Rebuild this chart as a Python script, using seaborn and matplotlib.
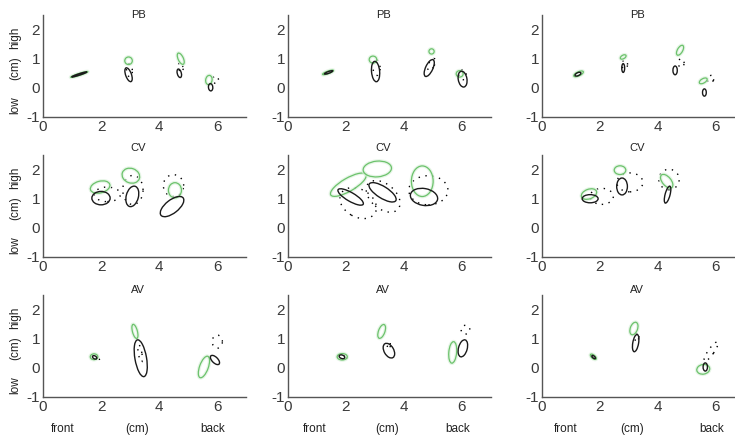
import matplotlib
matplotlib.use("Agg")
import matplotlib.pyplot as plt
from matplotlib.patches import Ellipse
import seaborn as sns

sns.set_style("white")
plt.rcParams['font.family'] = ['Liberation Sans', 'DejaVu Sans']
plt.rcParams['axes.unicode_minus'] = False

titles = ["PB", "PB", "PB", "CV", "CV", "CV", "AV", "AV", "AV"]
x_ticks = [0, 2, 4, 6]
y_ticks = [-1, 0, 1, 2]
y_words = ["low", "(cm)", "high"]
x_words = ["front", "(cm)", "back"]

# ellipses: (cx, cy, major, minor, angle_deg)
green = [
    [(1.25, 0.46, 0.62, 0.07, 18), (2.95, 0.93, 0.26, 0.26, 0), (4.75, 1.0, 0.42, 0.18, 115), (5.72, 0.27, 0.32, 0.22, 80)],
    [(1.38, 0.53, 0.40, 0.09, 20), (2.93, 0.97, 0.26, 0.24, 0), (4.95, 1.25, 0.18, 0.18, 0), (5.92, 0.48, 0.24, 0.22, 0)],
    [(1.26, 0.48, 0.36, 0.14, 25), (2.80, 1.06, 0.22, 0.12, 30), (4.76, 1.29, 0.38, 0.18, 60), (5.56, 0.24, 0.30, 0.15, 30)],
    [(1.97, 1.40, 0.69, 0.40, 15), (3.03, 1.79, 0.62, 0.50, -20), (4.55, 1.29, 0.45, 0.52, 0)],
    [(2.08, 1.48, 1.40, 0.45, 30), (3.08, 2.02, 0.98, 0.54, 5), (4.63, 1.60, 1.05, 0.75, 90)],
    [(1.62, 1.16, 0.55, 0.33, 20), (2.69, 1.98, 0.40, 0.30, 0), (4.30, 1.60, 0.56, 0.30, -50)],
    [(1.76, 0.38, 0.26, 0.20, 0), (3.17, 1.25, 0.50, 0.17, 105), (5.55, 0.03, 0.78, 0.30, 70)],
    [(1.87, 0.38, 0.35, 0.22, 0), (3.23, 1.25, 0.50, 0.22, 70), (5.68, 0.53, 0.74, 0.27, 85)],
    [(1.77, 0.38, 0.25, 0.12, -40), (3.17, 1.35, 0.45, 0.25, 70), (5.56, -0.05, 0.45, 0.33, 10)],
]
black = [
    [(1.25, 0.46, 0.55, 0.05, 18), (2.95, 0.45, 0.50, 0.20, 110), (4.70, 0.50, 0.30, 0.14, 105), (5.78, 0.02, 0.25, 0.15, 95)],
    [(1.40, 0.53, 0.30, 0.06, 20), (3.02, 0.56, 0.70, 0.28, 95), (4.87, 0.68, 0.63, 0.25, 65), (6.02, 0.30, 0.55, 0.30, 100)],
    [(1.24, 0.47, 0.22, 0.10, 25), (2.80, 0.68, 0.30, 0.10, 90), (4.59, 0.60, 0.30, 0.15, 90), (5.60, -0.16, 0.25, 0.13, 90)],
    [(2.00, 1.02, 0.63, 0.46, 0), (3.08, 1.08, 0.72, 0.42, 75), (4.45, 0.73, 0.97, 0.45, 38)],
    [(2.16, 1.06, 1.00, 0.30, -30), (3.26, 1.22, 1.08, 0.40, -32), (4.69, 1.06, 0.95, 0.58, -10)],
    [(1.66, 1.00, 0.55, 0.28, 0), (2.76, 1.42, 0.58, 0.37, 90), (4.33, 1.14, 0.60, 0.17, 75)],
    [(1.78, 0.36, 0.16, 0.10, -30), (3.37, 0.33, 1.28, 0.40, 100), (5.93, 0.27, 0.40, 0.20, -45)],
    [(1.86, 0.38, 0.20, 0.12, -20), (3.48, 0.59, 0.55, 0.33, -60), (6.03, 0.67, 0.60, 0.30, 75)],
    [(1.78, 0.37, 0.15, 0.07, -40), (3.23, 0.85, 0.60, 0.20, 80), (5.63, 0.03, 0.28, 0.15, 90)],
]
dotted = [
    [(2.98, 0.60, 0.45, 0.20, 95), (4.75, 0.70, 0.35, 0.15, 100), (5.95, 0.28, 0.25, 0.20, 90)],
    [(3.05, 0.70, 0.55, 0.25, 95), (4.95, 0.80, 0.45, 0.20, 65), (6.02, 0.45, 0.35, 0.25, 90)],
    [(2.85, 0.80, 0.30, 0.20, 90), (4.80, 0.85, 0.30, 0.20, 90), (5.82, 0.30, 0.28, 0.20, 60)],
    [(2.22, 1.15, 0.90, 0.50, 0), (3.10, 1.30, 1.00, 0.70, 90), (4.50, 1.45, 0.75, 0.70, 90)],
    [(2.42, 0.85, 1.35, 0.95, -30), (3.28, 1.08, 1.35, 0.85, -40), (4.84, 1.29, 1.35, 1.00, 0)],
    [(2.06, 1.08, 0.80, 0.55, 0), (3.03, 1.56, 0.90, 0.65, 0), (4.38, 1.66, 0.70, 0.70, 0)],
    [(1.92, 0.33, 0.14, 0.08, 0), (3.35, 0.50, 0.60, 0.12, 100), (6.01, 0.90, 0.45, 0.35, 90)],
    [(2.00, 0.38, 0.16, 0.10, 0), (3.50, 0.78, 0.25, 0.10, 0), (6.12, 1.31, 0.30, 0.30, 0)],
    [(1.82, 0.36, 0.12, 0.08, 0), (3.28, 1.05, 0.35, 0.12, 80), (5.83, 0.56, 0.80, 0.20, 55)],
]

W, H = 735, 438
fig = plt.figure(figsize=(W / 100, H / 100), dpi=100)
col_left = [43, 288, 542]
row_top = [15, 155, 295]
ax_w, ax_h = 203, 102
word_x = [[0.69, 3.24, 5.86], [0.93, 3.41, 5.86], [0.83, 3.10, 5.86]]
title_dy = [0.0, 7, 5]

green_c = "#6cc26c"
for i in range(9):
    r, c = divmod(i, 3)
    ax = fig.add_axes([col_left[c] / W, 1 - (row_top[r] + ax_h) / H, ax_w / W, ax_h / H])
    ax.set_xlim(0, 7)
    ax.set_ylim(-1, 2.5)
    ax.set_xticks(x_ticks)
    ax.set_yticks(y_ticks)
    ax.tick_params(direction="in", length=3, width=0.8, colors="#555555",
                   labelsize=11, labelcolor="#3a3a3a", pad=2)
    sns.despine(ax=ax)
    for s in ["left", "bottom"]:
        ax.spines[s].set_color("#555555")
        ax.spines[s].set_linewidth(1.0)
    ax.patch.set_alpha(0)
    for (cx, cy, a, b, ang) in dotted[i]:
        ax.add_patch(Ellipse((cx, cy), a, b, angle=ang, fill=False, ec="black",
                             lw=1.0, ls=(0, (1, 4))))
    for (cx, cy, a, b, ang) in green[i]:
        ax.add_patch(Ellipse((cx, cy), a, b, angle=ang, fill=False, ec="#dcf1dc",
                             lw=2.6, alpha=0.7))
        ax.add_patch(Ellipse((cx, cy), a, b, angle=ang, fill=False, ec=green_c, lw=0.9))
    for (cx, cy, a, b, ang) in black[i]:
        ax.add_patch(Ellipse((cx, cy), a, b, angle=ang, fill=False, ec="#1a1a1a", lw=1.0))
    ax.text(0.47, 1.0 + title_dy[r] / ax_h, titles[i], transform=ax.transAxes,
            ha="center", va="center", fontsize=8, color="#222222")
    if c == 0:
        for yv, wd in zip([-0.59, 0.69, 1.72], y_words):
            ax.text(-28 / 29, yv, wd, rotation=90, ha="center", va="center",
                    fontsize=8.5, color="#222222", clip_on=False)
    if r == 2:
        for xv, wd in zip(word_x[c], x_words):
            ax.text(xv, -2.1, wd, ha="center", va="center", fontsize=8.5,
                    color="#222222", clip_on=False)

fig.savefig("out.png", dpi=100)
